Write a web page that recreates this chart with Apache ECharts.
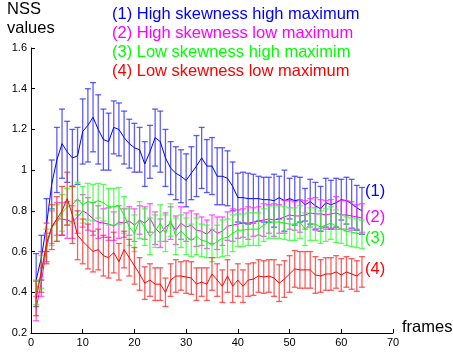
<!DOCTYPE html>
<html>
<head>
<meta charset="utf-8">
<script src="https://cdn.jsdelivr.net/npm/echarts@6/dist/echarts.min.js"></script>
<style>
html,body{margin:0;padding:0;background:#fff;}
#chart{width:453px;height:356px;}
</style>
</head>
<body>
<div id="chart"></div>
<script>
"use strict"

var frames = [1,2,3,4,5,6,7,8,9,10,11,12,13,14,15,16,17,18,19,20,21,22,23,24,25,26,27,28,29,30,31,32,
    33,34,35,36,37,38,39,40,41,42,43,44,45,46,47,48,49,50,51,52,53,54,55,56,57,58,59,60,61,62,63,64];

// (1) high skewness high maximum
var blueMean = [0.46,0.57,0.73,0.93,1.05,1.13,1.09,1.06,1.07,1.19,
    1.22,1.26,1.20,1.15,1.14,1.21,1.20,1.16,1.13,1.11,
    1.10,1.03,1.09,1.16,1.14,1.06,1.01,0.985,0.97,0.95,
    0.985,1.02,1.06,1.02,1.02,0.97,0.97,0.96,0.92,0.865,
    0.865,0.86,0.86,0.86,0.855,0.855,0.85,0.865,0.85,0.86,
    0.85,0.855,0.83,0.845,0.825,0.81,0.84,0.83,0.84,0.855,
    0.85,0.835,0.815,0.80];
var blueErr = [0.13,0.11,0.13,0.12,0.16,0.17,0.15,0.14,0.14,0.16,
    0.18,0.17,0.17,0.15,0.14,0.13,0.13,0.13,0.12,0.12,
    0.11,0.11,0.13,0.14,0.15,0.14,0.13,0.13,0.13,0.13,
    0.13,0.15,0.15,0.13,0.14,0.14,0.14,0.135,0.12,0.12,
    0.125,0.125,0.12,0.11,0.11,0.11,0.13,0.105,0.15,0.10,
    0.12,0.11,0.08,0.11,0.115,0.11,0.12,0.12,0.12,0.10,
    0.115,0.12,0.11,0.115];

// (2) high skewness low maximum
var pinkMean = [0.32,0.45,0.62,0.72,0.76,0.76,0.755,0.745,0.77,0.80,
    0.785,0.76,0.745,0.74,0.735,0.725,0.745,0.74,0.75,0.73,
    0.755,0.74,0.765,0.715,0.69,0.72,0.74,0.705,0.74,0.72,
    0.73,0.705,0.70,0.685,0.71,0.69,0.70,0.725,0.73,0.735,
    0.74,0.74,0.745,0.75,0.755,0.76,0.755,0.76,0.77,0.78,
    0.775,0.775,0.78,0.79,0.785,0.785,0.78,0.785,0.79,0.78,
    0.78,0.775,0.77,0.765];
var pinkErr = [0.06,0.07,0.07,0.08,0.08,0.08,0.09,0.08,0.08,0.08,
    0.08,0.08,0.08,0.07,0.08,0.07,0.08,0.07,0.07,0.08,
    0.07,0.08,0.07,0.08,0.07,0.07,0.08,0.07,0.08,0.07,
    0.07,0.08,0.07,0.07,0.07,0.08,0.07,0.07,0.08,0.07,
    0.07,0.08,0.07,0.07,0.08,0.07,0.08,0.07,0.08,0.07,
    0.07,0.08,0.07,0.07,0.08,0.07,0.07,0.07,0.08,0.07,
    0.07,0.07,0.06,0.07];

// (3) low skewness high maximum
var greenMean = [0.40,0.50,0.63,0.72,0.74,0.79,0.82,0.83,0.86,0.83,
    0.845,0.84,0.85,0.84,0.82,0.82,0.825,0.78,0.72,0.69,
    0.755,0.72,0.675,0.70,0.74,0.69,0.755,0.675,0.70,0.675,
    0.655,0.675,0.655,0.65,0.63,0.65,0.665,0.67,0.69,0.705,
    0.705,0.71,0.71,0.71,0.73,0.745,0.745,0.745,0.74,0.735,
    0.735,0.745,0.71,0.735,0.735,0.72,0.73,0.74,0.725,0.71,
    0.70,0.695,0.69,0.685];
var greenErr = [0.06,0.08,0.08,0.09,0.09,0.09,0.09,0.09,0.08,0.09,
    0.09,0.09,0.085,0.09,0.09,0.09,0.09,0.09,0.09,0.09,
    0.09,0.09,0.09,0.08,0.09,0.09,0.08,0.09,0.08,0.09,
    0.08,0.09,0.08,0.08,0.08,0.08,0.09,0.09,0.09,0.08,
    0.08,0.08,0.08,0.08,0.08,0.08,0.08,0.08,0.08,0.08,
    0.08,0.08,0.08,0.08,0.08,0.08,0.08,0.08,0.08,0.07,
    0.07,0.07,0.07,0.07];

// (4) low skewness low maximum
var redMean = [0.37,0.50,0.64,0.72,0.76,0.80,0.86,0.78,0.68,0.65,
    0.625,0.60,0.61,0.58,0.57,0.595,0.55,0.61,0.57,0.53,
    0.49,0.445,0.46,0.44,0.44,0.40,0.46,0.48,0.48,0.475,
    0.47,0.44,0.45,0.44,0.49,0.46,0.43,0.48,0.43,0.46,
    0.43,0.46,0.465,0.48,0.475,0.48,0.47,0.445,0.465,0.49,
    0.515,0.51,0.51,0.51,0.485,0.48,0.49,0.49,0.50,0.485,
    0.50,0.49,0.48,0.50];
var redErr = [0.085,0.10,0.10,0.11,0.11,0.12,0.13,0.14,0.12,0.11,
    0.11,0.10,0.10,0.10,0.10,0.10,0.09,0.09,0.09,0.09,
    0.08,0.08,0.08,0.08,0.08,0.07,0.08,0.08,0.07,0.08,
    0.08,0.08,0.07,0.08,0.08,0.08,0.08,0.08,0.08,0.08,
    0.08,0.08,0.08,0.08,0.08,0.08,0.09,0.09,0.09,0.09,
    0.09,0.09,0.09,0.09,0.09,0.08,0.08,0.08,0.08,0.08,
    0.075,0.075,0.075,0.075];

var legendText = ["(1) High skewness high maximum", "(2) High skewness low maximum",
    "(3) Low skewness high maximim", "(4) Low skewness low maximum"];
var endText = ["(1)", "(2)", "(3)", "(4)"];

var FONT = '"Liberation Sans", Arial, sans-serif';

function lineData(mean){
    var out = [];
    for(let i = 0; i < frames.length; i++){
        out.push([frames[i], mean[i]]);
    }
    return out;
}

function barData(mean, err){
    var out = [];
    for(let i = 0; i < frames.length; i++){
        out.push([frames[i], mean[i] - err[i], mean[i] + err[i]]);
    }
    return out;
}

function errorBar(color){
    return function(params, api){
        var x = api.value(0);
        var lo = api.coord([x, api.value(1)]);
        var hi = api.coord([x, api.value(2)]);
        var hw = 3; // half cap width
        var style = {stroke: color, lineWidth: 1.3};
        return {
            type: 'group',
            children: [
                {type: 'line', shape: {x1: hi[0], y1: hi[1], x2: lo[0], y2: lo[1]}, style: style},
                {type: 'line', shape: {x1: hi[0] - hw, y1: hi[1], x2: hi[0] + hw, y2: hi[1]}, style: style},
                {type: 'line', shape: {x1: lo[0] - hw, y1: lo[1], x2: lo[0] + hw, y2: lo[1]}, style: style}
            ]
        };
    };
}

var groups = [
    {mean: blueMean, err: blueErr, color: '#0000ff', bar: 'rgba(40,40,255,0.75)', dy: -19},
    {mean: pinkMean, err: pinkErr, color: '#ff00ff', bar: 'rgba(255,40,255,0.75)', dy: -1},
    {mean: greenMean, err: greenErr, color: '#00ff00', bar: 'rgba(40,255,40,0.75)', dy: 4},
    {mean: redMean, err: redErr, color: '#ff0000', bar: 'rgba(255,40,40,0.75)', dy: -2}
];

var series = [];
groups.forEach(function(g, k){
    series.push({
        type: 'custom',
        renderItem: errorBar(g.bar),
        encode: {x: 0, y: [1, 2]},
        data: barData(g.mean, g.err),
        silent: true,
        z: 2 + k * 2
    });
    series.push({
        type: 'line',
        data: lineData(g.mean),
        showSymbol: false,
        lineStyle: {color: g.color, width: 1},
        itemStyle: {color: g.color},
        z: 3 + k * 2,
        endLabel: {
            show: true,
            formatter: endText[k],
            color: g.color,
            fontSize: 16.5,
            fontFamily: FONT,
            distance: 3,
            offset: [0, g.dy]
        }
    });
});

var graphics = [
    {type: 'text', left: 7, top: 0, style: {text: 'NSS\nvalues', fill: '#000', font: '16.5px ' + FONT, lineHeight: 19}}
];
groups.forEach(function(g, k){
    graphics.push({
        type: 'text', left: 112, top: 6 + k * 19,
        style: {text: legendText[k], fill: g.color, font: '16.5px ' + FONT}
    });
});
graphics.push({type: 'text', left: 402, top: 319, style: {text: 'frames', fill: '#000', font: '16.5px ' + FONT}});

var chart = echarts.init(document.getElementById('chart'));
chart.setOption({
    animation: false,
    backgroundColor: '#fff',
    grid: {left: 31, right: 60, top: 48, bottom: 23},
    xAxis: {
        type: 'value',
        min: 0,
        max: 70,
        interval: 10,
        splitLine: {show: false},
        axisLine: {lineStyle: {color: '#000', width: 1}},
        axisTick: {inside: true, length: 4, lineStyle: {color: '#000'}},
        axisLabel: {color: '#000', fontSize: 11, fontFamily: FONT, margin: 4}
    },
    yAxis: {
        type: 'value',
        min: 0.2,
        max: 1.6,
        interval: 0.2,
        splitLine: {show: false},
        axisLine: {show: true, lineStyle: {color: '#000', width: 1}},
        axisTick: {show: true, inside: true, length: 4, lineStyle: {color: '#000'}},
        axisLabel: {color: '#000', fontSize: 11, fontFamily: FONT, margin: 4}
    },
    graphic: graphics,
    series: series
});
</script>
</body>
</html>
